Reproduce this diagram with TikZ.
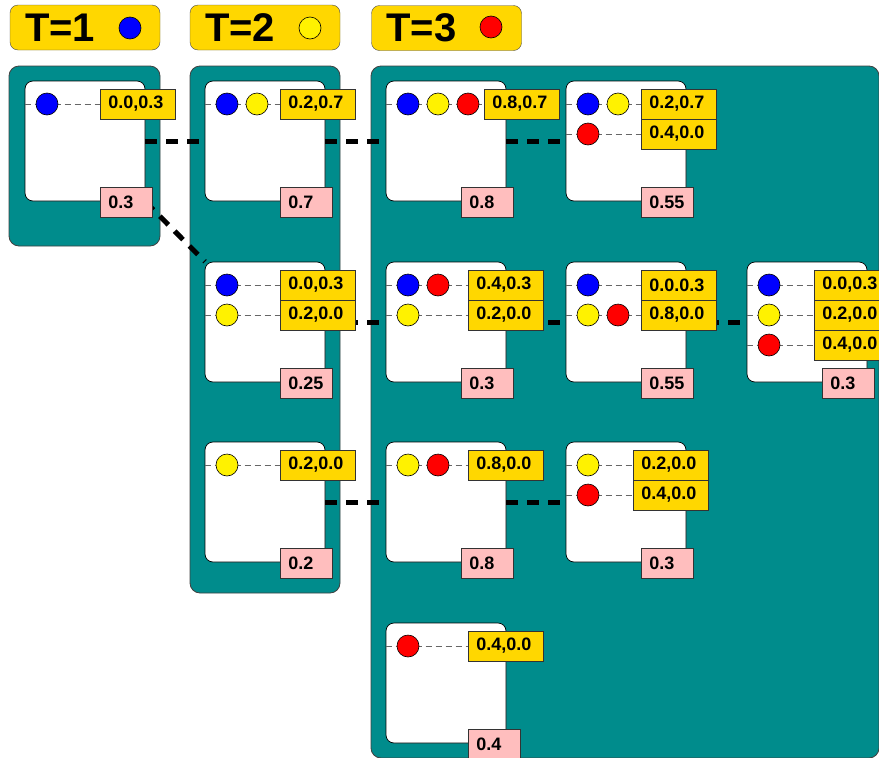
\documentclass[tikz,border=0pt]{standalone}
\usepackage{fontspec}
\setmainfont{Liberation Sans}
\usepackage{tikz}
\usetikzlibrary{positioning,calc}

\definecolor{gold}{RGB}{255,215,0}
\definecolor{tealbg}{RGB}{0,140,140}
\definecolor{pinkbg}{RGB}{255,190,190}

\begin{document}
\begin{tikzpicture}[x=1pt, y=-1pt,
    title/.style={draw=black!70, fill=gold, rounded corners=8pt, minimum width=150pt, minimum height=45pt, inner xsep=15pt, inner ysep=0pt, text width=120pt, align=left, font=\bfseries\fontsize{40}{40}\selectfont},
    panel/.style={draw=black!75, fill=tealbg, rounded corners=10pt, inner sep=0pt, line width=0.8pt},
    state/.style={draw=black, fill=white, rounded corners=8pt, inner sep=0pt, minimum width=120pt, minimum height=120pt, line width=0.7pt},
    dot/.style={circle, draw=black, inner sep=0pt, minimum size=22pt, line width=0.6pt},
    val/.style={draw=black!80, fill=gold, anchor=west, minimum height=30pt, inner ysep=0pt, inner xsep=8pt, text width=59pt, align=left, line width=0.7pt, font=\bfseries\fontsize{18}{18}\selectfont},
    prob/.style={val, fill=pinkbg, text width=36pt},
    guide/.style={draw=black!60, dash pattern=on 6pt off 4pt, line width=0.8pt},
    link/.style={line width=5pt, dash pattern=on 12pt off 9pt}
]
    \useasboundingbox (0,0) rectangle (879,758);

    % time steps
    \node[title] (t1) at (85,27.5) {T=1};
    \node[title] (t2) at (265,27.5) {T=2};
    \node[title] (t3) at (446.5,28) {T=3};
    \node[dot, fill=blue] (t1c) at (130,28) {};
    \node[dot, fill=yellow] (t2c) at (310,28) {};
    \node[dot, fill=red] (t3c) at (491,27) {};

    \node[panel, minimum width=151pt, minimum height=180pt] (pan1) at (84.5,156) {};
    \node[panel, minimum width=150pt, minimum height=527pt] (pan2) at (265,329.5) {};
    \node[panel, minimum width=508pt, minimum height=692pt] (pan3) at (625,412) {};

    % states
    \node[state] (b00) at (85,141) {};
    \node[state] (b10) at (265,141) {};
    \node[state] (b11) at (265,322) {};
    \node[state] (b12) at (265,502) {};
    \node[state] (b20) at (446,141) {};
    \node[state] (b21) at (446,322) {};
    \node[state] (b22) at (446,502) {};
    \node[state] (b23) at (446,683) {};
    \node[state] (b30) at (626,141) {};
    \node[state] (b31) at (626,322) {};
    \node[state] (b32) at (626,502) {};
    \node[state] (b41) at (807,322) {};

    \draw[link] (b00) -- (b10);
    \draw[link] (b10) -- (b20);
    \draw[link] (b20) -- (b30);
    \draw[link] (b00) -- (b11);
    \draw[link] (b11) -- (b21);
    \draw[link] (b21) -- (b31);
    \draw[link] (b31) -- (b41);
    \draw[link] (b12) -- (b22);
    \draw[link] (b22) -- (b32);

    % values
    \node[val] (l00) at (100,104) {0.0,0.3};
    \node[val] (l10) at (280,104) {0.2,0.7};
    \node[val] (l11a) at (280,285) {0.0,0.3};
    \node[val] (l11b) at (280,315) {0.2,0.0};
    \node[val] (l12) at (280,465) {0.2,0.0};
    \node[val] (l20) at (484,104) {0.8,0.7};
    \node[val] (l21a) at (468,285) {0.4,0.3};
    \node[val] (l21b) at (468,315) {0.2,0.0};
    \node[val] (l22) at (468,465) {0.8,0.0};
    \node[val] (l23) at (468,646) {0.4,0.0};
    \node[val] (l30a) at (641,104) {0.2,0.7};
    \node[val] (l30b) at (641,134) {0.4,0.0};
    \node[val] (l31a) at (641,285) {0.0.0.3};
    \node[val] (l31b) at (641,315) {0.8,0.0};
    \node[val] (l32a) at (633,465) {0.2,0.0};
    \node[val] (l32b) at (633,495) {0.4,0.0};
    \node[val] (l41a) at (814,285) {0.0,0.3};
    \node[val] (l41b) at (814,315) {0.2,0.0};
    \node[val] (l41c) at (814,345) {0.4,0.0};

    \draw[guide] (b00.west |- l00.west) -- (l00.west);
    \draw[guide] (b10.west |- l10.west) -- (l10.west);
    \draw[guide] (b11.west |- l11a.west) -- (l11a.west);
    \draw[guide] (b11.west |- l11b.west) -- (l11b.west);
    \draw[guide] (b12.west |- l12.west) -- (l12.west);
    \draw[guide] (b20.west |- l20.west) -- (l20.west);
    \draw[guide] (b21.west |- l21a.west) -- (l21a.west);
    \draw[guide] (b21.west |- l21b.west) -- (l21b.west);
    \draw[guide] (b22.west |- l22.west) -- (l22.west);
    \draw[guide] (b23.west |- l23.west) -- (l23.west);
    \draw[guide] (b30.west |- l30a.west) -- (l30a.west);
    \draw[guide] (b30.west |- l30b.west) -- (l30b.west);
    \draw[guide] (b31.west |- l31a.west) -- (l31a.west);
    \draw[guide] (b31.west |- l31b.west) -- (l31b.west);
    \draw[guide] (b32.west |- l32a.west) -- (l32a.west);
    \draw[guide] (b32.west |- l32b.west) -- (l32b.west);
    \draw[guide] (b41.west |- l41a.west) -- (l41a.west);
    \draw[guide] (b41.west |- l41b.west) -- (l41b.west);
    \draw[guide] (b41.west |- l41c.west) -- (l41c.west);

    % dots
    \node[dot, fill=blue] (d00a) at (47,104) {};
    \node[dot, fill=blue] (d10a) at (227,104) {};
    \node[dot, fill=yellow] (d10b) at (257,104) {};
    \node[dot, fill=blue] (d11a) at (227,285) {};
    \node[dot, fill=yellow] (d11b) at (227,315) {};
    \node[dot, fill=yellow] (d12a) at (227,465) {};
    \node[dot, fill=blue] (d20a) at (408,104) {};
    \node[dot, fill=yellow] (d20b) at (438,104) {};
    \node[dot, fill=red] (d20c) at (468,104) {};
    \node[dot, fill=blue] (d21a) at (408,285) {};
    \node[dot, fill=red] (d21b) at (438,285) {};
    \node[dot, fill=yellow] (d21c) at (408,315) {};
    \node[dot, fill=yellow] (d22a) at (408,465) {};
    \node[dot, fill=red] (d22b) at (438,465) {};
    \node[dot, fill=red] (d23a) at (408,646) {};
    \node[dot, fill=blue] (d30a) at (588,104) {};
    \node[dot, fill=yellow] (d30b) at (618,104) {};
    \node[dot, fill=red] (d30c) at (588,134) {};
    \node[dot, fill=blue] (d31a) at (588,285) {};
    \node[dot, fill=yellow] (d31b) at (588,315) {};
    \node[dot, fill=red] (d31c) at (618,315) {};
    \node[dot, fill=yellow] (d32a) at (588,465) {};
    \node[dot, fill=red] (d32b) at (588,495) {};
    \node[dot, fill=blue] (d41a) at (769,285) {};
    \node[dot, fill=yellow] (d41b) at (769,315) {};
    \node[dot, fill=red] (d41c) at (769,345) {};

    % probabilities
    \node[prob] (p00) at (100,202) {0.3};
    \node[prob] (p10) at (280,202) {0.7};
    \node[prob] (p11) at (280,383) {0.25};
    \node[prob] (p12) at (280,563) {0.2};
    \node[prob] (p20) at (461,202) {0.8};
    \node[prob] (p21) at (461,383) {0.3};
    \node[prob] (p22) at (461,563) {0.8};
    \node[prob] (p23) at (468,744) {0.4};
    \node[prob] (p30) at (641,202) {0.55};
    \node[prob] (p31) at (641,383) {0.55};
    \node[prob] (p32) at (641,563) {0.3};
    \node[prob] (p41) at (822,383) {0.3};
\end{tikzpicture}
\end{document}
